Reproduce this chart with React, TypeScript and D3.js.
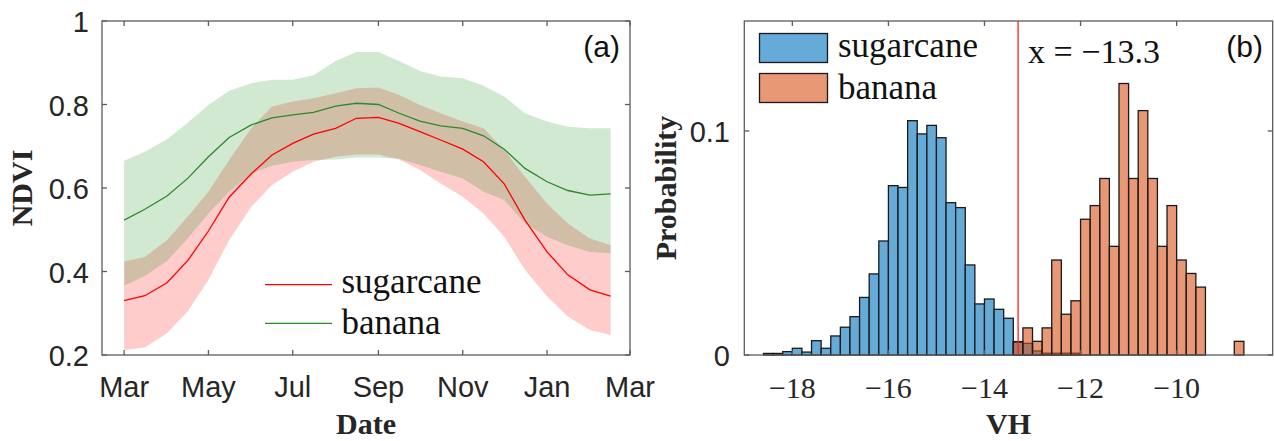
import React from 'react';
import * as d3 from 'd3';

// ---------- Panel (a): NDVI time series ----------
const dates = [
  '2019-03-01', '2019-03-16', '2019-04-01', '2019-04-16', '2019-05-01', '2019-05-16',
  '2019-06-01', '2019-06-16', '2019-07-01', '2019-07-16', '2019-08-01', '2019-08-16',
  '2019-09-01', '2019-09-16', '2019-10-01', '2019-10-16', '2019-11-01', '2019-11-16',
  '2019-12-01', '2019-12-16', '2020-01-01', '2020-01-16', '2020-02-01', '2020-02-16',
];
const sugarcaneMean = [0.330, 0.342, 0.373, 0.426, 0.497, 0.578, 0.634, 0.679, 0.707, 0.729, 0.743, 0.767,
  0.769, 0.755, 0.735, 0.715, 0.693, 0.663, 0.610, 0.523, 0.447, 0.392, 0.356, 0.341];
const sugarcaneUpper = [0.424, 0.435, 0.475, 0.531, 0.591, 0.667, 0.743, 0.795, 0.807, 0.815, 0.827, 0.839,
  0.841, 0.823, 0.799, 0.779, 0.759, 0.743, 0.691, 0.627, 0.563, 0.515, 0.479, 0.463];
const sugarcaneLower = [0.212, 0.218, 0.252, 0.304, 0.380, 0.475, 0.555, 0.607, 0.639, 0.663, 0.675, 0.680,
  0.680, 0.668, 0.643, 0.611, 0.579, 0.539, 0.483, 0.404, 0.340, 0.292, 0.260, 0.248];
const bananaMean = [0.523, 0.549, 0.581, 0.623, 0.675, 0.721, 0.751, 0.768, 0.775, 0.781, 0.796, 0.803,
  0.800, 0.779, 0.760, 0.749, 0.743, 0.725, 0.693, 0.647, 0.615, 0.594, 0.583, 0.586];
const bananaUpper = [0.665, 0.687, 0.717, 0.756, 0.799, 0.833, 0.851, 0.859, 0.859, 0.870, 0.904, 0.926,
  0.926, 0.904, 0.880, 0.867, 0.863, 0.845, 0.819, 0.779, 0.759, 0.747, 0.743, 0.743];
const bananaLower = [0.366, 0.389, 0.425, 0.479, 0.539, 0.591, 0.635, 0.653, 0.663, 0.667, 0.668, 0.673,
  0.673, 0.670, 0.655, 0.639, 0.623, 0.591, 0.571, 0.515, 0.483, 0.463, 0.447, 0.444];
const monthTickDates = ['2019-03-01', '2019-05-01', '2019-07-01', '2019-09-01', '2019-11-01', '2020-01-01', '2020-03-01'];
const monthTickLabels = ['Mar', 'May', 'Jul', 'Sep', 'Nov', 'Jan', 'Mar'];
const ndviTicks = [0.2, 0.4, 0.6, 0.8, 1];
const ndviTickLabels = ['0.2', '0.4', '0.6', '0.8', '1'];

// ---------- Panel (b): VH histograms ----------
const binWidth = 0.2;
const sugarcaneBinStart = -18.6;
const sugarcaneProb = [0.0007, 0.0007, 0.0015, 0.0030, 0.0013, 0.0064, 0.0030, 0.0085, 0.0124, 0.0171,
  0.0257, 0.0362, 0.0509, 0.0756, 0.0748, 0.1046, 0.0987, 0.1025, 0.0970, 0.0680, 0.0658, 0.0402,
  0.0228, 0.0250, 0.0204, 0.0164, 0.0060, 0.0052, 0.0018, 0.0008, 0.0008, 0.0008, 0.0008];
const bananaBinStart = -13.4;
const bananaProb = [0.0058, 0.0121, 0.0061, 0.0121, 0.0424, 0.0182, 0.0242, 0.0606, 0.0667, 0.0788,
  0.0485, 0.1212, 0.0788, 0.1091, 0.0788, 0.0485, 0.0667, 0.0424, 0.0364, 0.0303, 0, 0, 0, 0.0061];
const vhTicks = [-18, -16, -14, -12, -10];
const vhTickLabels = ['\u221218', '\u221216', '\u221214', '\u221212', '\u221210'];
const probTicks = [0, 0.1];
const probTickLabels = ['0', '0.1'];
const threshold = -13.3;

const SANS = '"Liberation Sans", Arial, sans-serif';
const SERIF = '"Liberation Serif", "Times New Roman", serif';
const AXIS = '#5c5c5c';
const TXT = '#262626';
const TL = 5;

export default function App() {
  const parse = d3.utcParse('%Y-%m-%d');
  const t = dates.map((d) => parse(d) as Date);

  // panel a
  const aL = 102, aR = 630, aT = 21, aB = 355;
  const xA = d3.scaleUtc().domain([parse('2019-02-13') as Date, parse('2020-03-01') as Date]).range([aL, aR]);
  const yA = d3.scaleLinear().domain([0.2, 1]).range([aB, aT]);
  const band = (lo: number[], hi: number[]) =>
    d3.area<number>().x((i) => xA(t[i])).y0((i) => yA(lo[i])).y1((i) => yA(hi[i]))(d3.range(t.length)) || '';
  const line = (v: number[]) =>
    d3.line<number>().x((i) => xA(t[i])).y((i) => yA(v[i]))(d3.range(t.length)) || '';

  // panel b
  const bL = 744.3, bR = 1272.7, bT = 21, bB = 355;
  const xB = d3.scaleLinear().domain([-19, -8]).range([bL, bR]);
  const yB = d3.scaleLinear().domain([0, 0.1491]).range([bB, bT]);

  const bars = (start: number, vals: number[], fill: string) =>
    vals.map((v, i) => {
      if (v <= 0) return null;
      const x0 = xB(start + i * binWidth);
      const x1 = xB(start + (i + 1) * binWidth);
      return (
        <rect key={i} x={x0} y={yB(v)} width={x1 - x0} height={yB(0) - yB(v)}
          fill={fill} stroke="#1a1a1a" strokeWidth={1.3} />
      );
    });

  const blue = 'rgb(102,170,215)';
  const orange = 'rgba(217,83,25,0.6)';

  return (
    <svg width={1274} height={441} style={{ position: 'absolute', left: 0, top: 0, background: '#fff' }}>
      <rect x={0} y={0} width={1274} height={441} fill="#fff" />
      {/* ---------- Panel a ---------- */}
      <path d={band(sugarcaneLower, sugarcaneUpper)} fill="rgba(255,0,0,0.2)" />
      <path d={band(bananaLower, bananaUpper)} fill="rgba(0,128,0,0.18)" />
      <path d={line(sugarcaneMean)} fill="none" stroke="#ff0000" strokeWidth={1.3} />
      <path d={line(bananaMean)} fill="none" stroke="#2a8a2a" strokeWidth={1.3} />
      <rect x={aL} y={aT} width={aR - aL} height={aB - aT} fill="none" stroke={AXIS} strokeWidth={1.3} />
      {monthTickDates.map((d, i) => {
        const x = xA(parse(d) as Date);
        return (
          <g key={'mt' + i}>
            <line x1={x} x2={x} y1={aB} y2={aB - TL} stroke={AXIS} strokeWidth={1.3} />
            <line x1={x} x2={x} y1={aT} y2={aT + TL} stroke={AXIS} strokeWidth={1.3} />
            <text x={x} y={397} textAnchor="middle" fontFamily={SANS} fontSize={29} fill={TXT}>{monthTickLabels[i]}</text>
          </g>
        );
      })}
      {ndviTicks.map((v, i) => {
        const y = yA(v);
        return (
          <g key={'nt' + i}>
            <line x1={aL} x2={aL + TL} y1={y} y2={y} stroke={AXIS} strokeWidth={1.3} />
            <line x1={aR} x2={aR - TL} y1={y} y2={y} stroke={AXIS} strokeWidth={1.3} />
            <text x={89} y={y + 11} textAnchor="end" fontFamily={SANS} fontSize={29} fill={TXT}>{ndviTickLabels[i]}</text>
          </g>
        );
      })}
      <text x={620} y={57} textAnchor="end" fontFamily={SANS} fontSize={30} fill="#111">(a)</text>
      <text transform={`translate(32,${(aT + aB) / 2}) rotate(-90)`} textAnchor="middle" fontFamily={SERIF}
        fontWeight="bold" fontSize={30} fill={TXT}>NDVI</text>
      <text x={(aL + aR) / 2} y={434} textAnchor="middle" fontFamily={SERIF} fontWeight="bold" fontSize={30} fill={TXT}>Date</text>
      {/* legend a */}
      <line x1={265} x2={332} y1={284.7} y2={284.7} stroke="#ff0000" strokeWidth={1.3} />
      <line x1={265} x2={332} y1={323.3} y2={323.3} stroke="#2a8a2a" strokeWidth={1.3} />
      <text x={341.5} y={293} fontFamily={SERIF} fontSize={35} fill="#111">sugarcane</text>
      <text x={341.5} y={334} fontFamily={SERIF} fontSize={35} fill="#111">banana</text>

      {/* ---------- Panel b ---------- */}
      {bars(sugarcaneBinStart, sugarcaneProb, blue)}
      {bars(bananaBinStart, bananaProb, orange)}
      <line x1={xB(threshold)} x2={xB(threshold)} y1={bT} y2={bB} stroke="#ff2020" strokeWidth={1.3} />
      <rect x={bL} y={bT} width={bR - bL} height={bB - bT} fill="none" stroke={AXIS} strokeWidth={1.3} />
      {vhTicks.map((v, i) => {
        const x = xB(v);
        return (
          <g key={'vt' + i}>
            <line x1={x} x2={x} y1={bB} y2={bB - TL} stroke={AXIS} strokeWidth={1.3} />
            <line x1={x} x2={x} y1={bT} y2={bT + TL} stroke={AXIS} strokeWidth={1.3} />
            <text x={x} y={398} textAnchor="middle" fontFamily={SERIF} fontSize={30} fill={TXT}>{vhTickLabels[i]}</text>
          </g>
        );
      })}
      {probTicks.map((v, i) => {
        const y = yB(v);
        return (
          <g key={'pt' + i}>
            <line x1={bL} x2={bL + TL} y1={y} y2={y} stroke={AXIS} strokeWidth={1.3} />
            <line x1={bR} x2={bR - TL} y1={y} y2={y} stroke={AXIS} strokeWidth={1.3} />
            <text x={730} y={y + 11} textAnchor="end" fontFamily={SANS} fontSize={29} fill={TXT}>{probTickLabels[i]}</text>
          </g>
        );
      })}
      <text x={1263} y={57} textAnchor="end" fontFamily={SANS} fontSize={30} fill="#111">(b)</text>
      <text x={1028} y={63} fontFamily={SERIF} fontSize={34} fill="#111">x = {'\u2212'}13.3</text>
      <text transform={`translate(676,${(bT + bB) / 2}) rotate(-90)`} textAnchor="middle" fontFamily={SERIF}
        fontWeight="bold" fontSize={30} fill={TXT}>Probability</text>
      <text x={(bL + bR) / 2} y={434} textAnchor="middle" fontFamily={SERIF} fontWeight="bold" fontSize={30} fill={TXT}>VH</text>
      {/* legend b */}
      <rect x={759.5} y={33.5} width={68} height={29} fill={blue} stroke="#1a1a1a" strokeWidth={1.3} />
      <rect x={759.5} y={73.5} width={68} height={29} fill="rgb(232,152,117)" stroke="#1a1a1a" strokeWidth={1.3} />
      <text x={838} y={57} fontFamily={SERIF} fontSize={35} fill="#111">sugarcane</text>
      <text x={838} y={99} fontFamily={SERIF} fontSize={35} fill="#111">banana</text>
    </svg>
  );
}
